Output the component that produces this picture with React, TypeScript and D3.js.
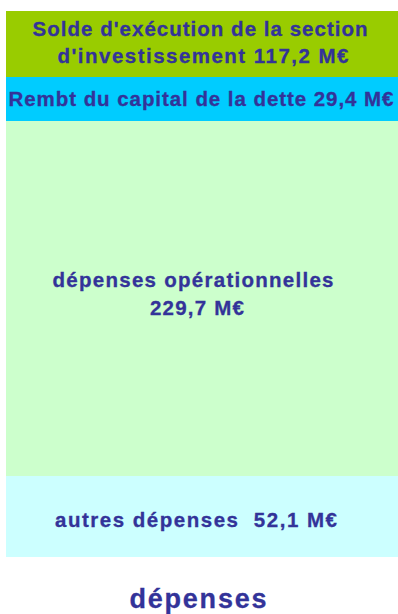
import React from "react";
import * as d3 from "d3";

// Segment order: top to bottom
const segmentNames = [
  "Solde d'exécution de la section d'investissement",
  "Rembt du capital de la dette",
  "dépenses opérationnelles",
  "autres dépenses",
];
// Amounts shown in labels (M€)
const amounts = [117.2, 29.4, 229.7, 52.1];
// Visual bar heights (relative units)
const barSizes = [66, 44, 355, 81];
const labelLines = [
  ["Solde d'exécution de la section", "d'investissement 117,2 M€"],
  ["Rembt du capital de la dette 29,4 M€"],
  ["dépenses opérationnelles", "229,7 M€"],
  ["autres dépenses  52,1 M€"],
];
const categoryLabel = "dépenses";

// styles
const colors = ["#99CC00", "#00CCFF", "#CCFFCC", "#CCFFFF"];
const labelWidths = [[335, 291], [385], [281, 94], [282]];
const labelDx = [[-2, 1], [-1], [-9, -5], [-6]];
const labelDy = [-1.5, -0.5, -4.5, 3];
const textColor = "#333399";

const W = 398;
const H = 614;
const barTop = 11;
const barBottom = 557;
const barLeft = 6;
const barRight = 398;

export default function App() {
  const total = d3.sum(barSizes);
  const y = d3.scaleLinear().domain([0, total]).range([barTop, barBottom]);
  const x = d3.scaleBand().domain([categoryLabel]).range([barLeft, barRight]).padding(0);
  let acc = 0;
  const segs = barSizes.map((v, i) => {
    const s = { i, y0: y(acc), y1: y(acc + v) };
    acc += v;
    return s;
  });
  const cx = (x(categoryLabel) as number) + x.bandwidth() / 2;
  const lh = 27.5;
  return (
    <svg
      width={W}
      height={H}
      style={{ position: "absolute", left: 0, top: 0, background: "#fff" }}
      fontFamily="Arial, 'Liberation Sans', sans-serif"
    >
      {segs.map((s) => (
        <rect
          key={"r" + s.i}
          x={x(categoryLabel)}
          width={x.bandwidth()}
          y={s.y0}
          height={s.y1 - s.y0}
          fill={colors[s.i]}
          data-name={segmentNames[s.i]}
          data-amount={amounts[s.i]}
        />
      ))}
      {segs.map((s) => {
        const lines = labelLines[s.i];
        const c = (s.y0 + s.y1) / 2;
        const first = c - ((lines.length - 1) * lh) / 2 + 7 + labelDy[s.i];
        return lines.map((t, j) => (
          <text
            key={"t" + s.i + "-" + j}
            x={cx + labelDx[s.i][j]}
            y={first + j * lh}
            textAnchor="middle"
            fontSize={20.5}
            fontWeight={700}
            fill={textColor}
            stroke={textColor}
            strokeWidth={0.3}
            textLength={labelWidths[s.i][j]}
            lengthAdjust="spacing"
            style={{ whiteSpace: "pre" }}
          >
            {t}
          </text>
        ));
      })}
      <text
        x={cx - 4}
        y={608}
        textAnchor="middle"
        fontSize={27}
        fontWeight={700}
        fill={textColor}
        stroke={textColor}
        strokeWidth={0.3}
        textLength={137}
        lengthAdjust="spacing"
      >
        {categoryLabel}
      </text>
    </svg>
  );
}
